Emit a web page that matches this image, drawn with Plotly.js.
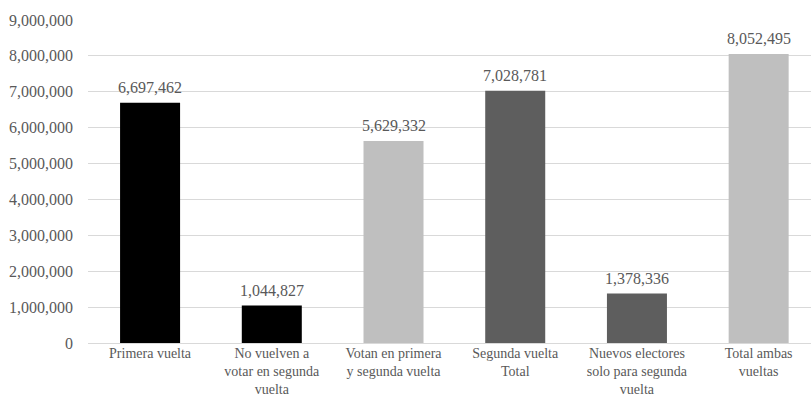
<!DOCTYPE html>
<html>
<head>
<meta charset="utf-8">
<script src="https://cdn.plot.ly/plotly-3.0.1.min.js"></script>
<style>html,body{margin:0;padding:0;background:#fff;}#chart{width:811px;height:398px;}</style>
</head>
<body>
<div id="chart"></div>
<script>
const categories = [
  "Primera vuelta",
  "No vuelven a<br>votar en segunda<br>vuelta",
  "Votan en primera<br>y segunda vuelta",
  "Segunda vuelta<br>Total",
  "Nuevos electores<br>solo para segunda<br>vuelta",
  "Total ambas<br>vueltas"
];
const values = [6697462, 1044827, 5629332, 7028781, 1378336, 8052495];
const barColors = ["#000000", "#000000", "#BFBFBF", "#5E5E5E", "#5E5E5E", "#BFBFBF"];
const yTicks = [0, 1000000, 2000000, 3000000, 4000000, 5000000, 6000000, 7000000, 8000000, 9000000];

const fontFamily = '"Liberation Serif", "Times New Roman", serif';
const textColor = "#595959";
const xIdx = categories.map((c, i) => i);

const trace = {
  type: "bar",
  x: xIdx,
  y: values,
  marker: {color: barColors, line: {width: 0}},
  hoverinfo: "none"
};

const annotations = values.map((v, i) => ({
  x: i, y: v, xref: "x", yref: "y",
  text: v.toLocaleString("en-US"),
  showarrow: false, yanchor: "bottom", yshift: 5,
  font: {family: fontFamily, size: 16, color: textColor}
}));

const layout = {
  width: 811, height: 398,
  margin: {l: 88, r: 0, t: 20, b: 55},
  paper_bgcolor: "#ffffff", plot_bgcolor: "#ffffff",
  showlegend: false,
  bargap: 0.507,
  font: {family: fontFamily, size: 16, color: textColor},
  xaxis: {
    range: [-0.51, 5.43],
    tickmode: "array", tickvals: xIdx, ticktext: categories,
    showgrid: false, zeroline: false, showline: false, ticks: "",
    ticklabelstandoff: 0,
    tickfont: {family: fontFamily, size: 14, color: textColor},
    fixedrange: true
  },
  yaxis: {
    range: [0, 9000000],
    tickmode: "array", tickvals: yTicks,
    ticktext: yTicks.map(v => v.toLocaleString("en-US")),
    showgrid: true, gridcolor: "#D9D9D9", gridwidth: 1,
    zeroline: true, zerolinecolor: "#D9D9D9", zerolinewidth: 1,
    showline: false, ticks: "", ticklabelstandoff: 14,
    tickfont: {family: fontFamily, size: 16, color: textColor},
    fixedrange: true
  },
  annotations: annotations
};

Plotly.newPlot("chart", [trace], layout, {displayModeBar: false, staticPlot: true});
</script>
</body>
</html>
